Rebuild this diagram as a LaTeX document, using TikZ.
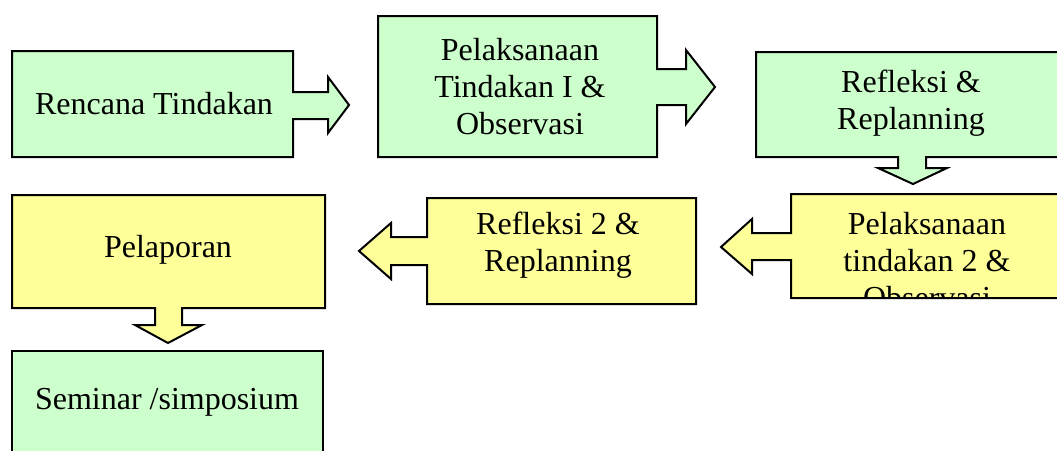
\documentclass[tikz,border=0pt]{standalone}
\usepackage{fontspec}
\setmainfont{Liberation Serif}
\definecolor{boxgreen}{RGB}{204,255,204}
\definecolor{boxyellow}{RGB}{255,255,153}

\begin{document}
\begin{tikzpicture}[x=1pt, y=-1pt, line join=miter,
	greenbox/.style={draw=black, fill=boxgreen, line width=2pt},
	yellowbox/.style={draw=black, fill=boxyellow, line width=2pt},
	label/.style={inner sep=0pt, align=center, font=\fontsize{32}{37}\selectfont}]
\useasboundingbox (0,0) rectangle (1057,450);
\clip (0,0) rectangle (1057,450);
% top row
\draw[greenbox] (12,51) -- (293,51) -- (293,92) -- (328,92) -- (328,77) -- (349,105)
	-- (328,133) -- (328,119) -- (293,119) -- (293,157) -- (12,157) -- cycle;
\draw[greenbox] (378,16) -- (657,16) -- (657,69) -- (686,69) -- (686,50) -- (715,87)
	-- (686,124) -- (686,105) -- (657,105) -- (657,157) -- (378,157) -- cycle;
\draw[greenbox] (756,52) -- (1066,52) -- (1066,157) -- (926,157) -- (926,168) -- (947,168)
	-- (913,184) -- (878,168) -- (898,168) -- (898,157) -- (756,157) -- cycle;
\node[label] (rencana) at (154,104) {Rencana Tindakan};
\node[label] (tindakan1) at (520,87) {Pelaksanaan\\Tindakan I \&\\Observasi};
\node[label] (refleksi1) at (911,103) {Refleksi \&\\Replanning};
% middle row
\draw[yellowbox] (791,194) -- (1066,194) -- (1066,298) -- (791,298) -- (791,260) -- (752,260)
	-- (752,274) -- (721,247) -- (752,219) -- (752,233) -- (791,233) -- cycle;
\draw[yellowbox] (427,198) -- (696,198) -- (696,304) -- (427,304) -- (427,265) -- (391,265)
	-- (391,279) -- (359,251) -- (391,223) -- (391,237) -- (427,237) -- cycle;
\draw[yellowbox] (12,195) -- (325,195) -- (325,308) -- (182,308) -- (182,325) -- (202,325)
	-- (168,343) -- (135,325) -- (155,325) -- (155,308) -- (12,308) -- cycle;
\begin{scope}
\clip (792,195) rectangle (1066,297);
\node[label, anchor=north] (tindakan2) at (927,212) {Pelaksanaan\\tindakan 2 \&\\Observasi};
\end{scope}
\node[label] (refleksi2) at (558,245) {Refleksi 2 \&\\Replanning};
\node[label] (pelaporan) at (168,250) {Pelaporan};
% bottom row
\draw[greenbox] (12,351) rectangle (323,456);
\node[label] (seminar) at (167,402) {Seminar /simposium};
\end{tikzpicture}
\end{document}
